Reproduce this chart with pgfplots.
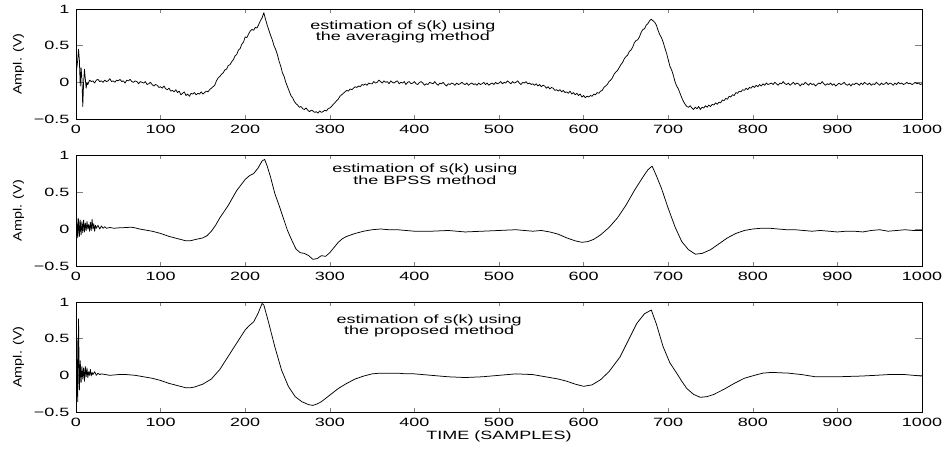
\documentclass[border=0pt]{standalone}
\usepackage{fontspec}
\setmainfont[FakeStretch=1.5]{Liberation Sans}
\newfontfamily\ylabfont[FakeStretch=1.2]{Liberation Sans}
\usepackage{pgfplots}
\pgfplotsset{compat=1.18}
\pgfplotsset{
  sigline/.style={black, mark=none, line width=0.75pt, line join=round},
  sig/.style={
    scale only axis, width=846pt, anchor=south west,
    xmin=0, xmax=1000, ymin=-0.5, ymax=1,
    xtick={0,100,...,1000},
    xticklabels={0,100,200,300,400,500,600,700,800,900,1000},
    ytick={-0.5,0,0.5,1},
    yticklabels={−0.5,0,0.5,1},
    tick align=inside,
    xtick style={/pgfplots/major tick length=4pt, line width=0.6pt},
    ytick style={/pgfplots/major tick length=7pt, line width=0.6pt},
    axis line style={line width=0.8pt},
    font=\fontsize{12pt}{12pt}\selectfont,
    xticklabel style={yshift=-2.5pt},
    yticklabel style={xshift=-3pt},
    ylabel={\ylabfont Ampl. (V)},
    every axis y label/.style={at={(axis description cs:-0.068,0.5)}, rotate=90, anchor=center, font=\fontsize{12pt}{12pt}\selectfont},
  }
}
\begin{document}
\begin{tikzpicture}
\path[use as bounding box] (0,0) rectangle (946pt,449pt);
% ---------- axis 1: averaging ----------
\begin{axis}[sig, at={(76pt,330pt)}, height=110pt]
\addplot[sigline] coordinates {
(0,0.12)(1,0.2)(2,0.3)(3,0.45)(4,0.3)(5,-0.05)(6,0.2)(7,0.05)(8,-0.33)(9,0.0)(10,0.18)(11,0.05)(12,-0.08)(13,0.0)(14,-0.03)
(16,0.03)(18,0.01)(20,0.02)(22,-0.01)(24,0.03)(26,0.04)(28,0.01)(30,0.02)(32,0.00)(34,0.03)(36,0.01)(38,0.02)(40,0.05)(42,0.01)(44,0.02)(46,0.00)(48,0.03)(50,0.02)(52,0.04)(54,0.01)(56,0.02)(58,-0.01)(60,0.03)(62,0.02)(64,0.04)(66,0.01)(68,0.00)(70,0.02)(72,0.01)(74,-0.02)(76,0.01)(78,0.00)(80,-0.01)(82,0.01)(84,-0.03)(86,-0.02)(88,0.0)(90,-0.03)(92,-0.05)(94,-0.03)(96,-0.04)(98,-0.07)
(100,-0.06)(102,-0.08)(104,-0.05)(106,-0.09)(108,-0.10)(110,-0.08)(112,-0.12)(114,-0.11)(116,-0.13)(118,-0.10)(120,-0.14)(122,-0.12)(124,-0.17)(126,-0.15)(128,-0.13)(130,-0.18)(132,-0.16)(134,-0.19)(136,-0.15)(138,-0.16)(140,-0.14)(142,-0.17)(144,-0.15)(146,-0.16)(148,-0.13)(150,-0.16)(152,-0.14)(154,-0.12)(156,-0.13)(158,-0.10)(160,-0.08)(162,-0.06)(164,-0.04)(166,0.02)(168,0.06)(170,0.08)(172,0.11)(174,0.13)(176,0.17)(178,0.18)(180,0.23)(182,0.24)(184,0.28)(186,0.31)(188,0.36)(190,0.38)(192,0.44)(194,0.46)(196,0.52)(198,0.55)
(200,0.62)(202,0.61)(204,0.66)(206,0.70)(208,0.72)(210,0.71)(212,0.75)(214,0.74)(216,0.79)(218,0.84)(220,0.88)(222,0.95)(224,0.86)(226,0.78)(228,0.71)(230,0.64)(232,0.58)(234,0.50)(236,0.45)(238,0.38)(240,0.29)(242,0.22)(244,0.13)(246,0.08)(248,0.0)(250,-0.06)(252,-0.12)(254,-0.18)
(256,-0.21)(258,-0.26)(260,-0.29)(262,-0.31)(264,-0.34)(266,-0.33)(268,-0.36)(270,-0.37)(272,-0.35)(274,-0.38)(276,-0.40)(278,-0.38)(280,-0.39)(282,-0.41)(284,-0.40)(286,-0.42)(288,-0.39)(290,-0.41)(292,-0.40)(294,-0.38)(296,-0.39)(298,-0.36)
(300,-0.35)(302,-0.33)(304,-0.30)(306,-0.28)(308,-0.25)(310,-0.23)(312,-0.19)(314,-0.17)(316,-0.15)(318,-0.13)(320,-0.11)(322,-0.12)(324,-0.09)(326,-0.10)(328,-0.08)(330,-0.06)(332,-0.07)(334,-0.05)(336,-0.06)(338,-0.03)(340,-0.04)(342,-0.02)(344,-0.04)(346,-0.01)(348,-0.02)
(350,-0.02)(352,0.01)(354,-0.01)(356,0.00)(358,0.03)(360,0.01)(362,-0.01)(364,0.02)(366,0.00)(368,0.01)(370,-0.02)(372,0.02)(374,0.00)(376,-0.01)(378,0.01)(380,0.02)(382,-0.02)(384,0.00)(386,-0.01)(388,0.01)(390,-0.03)(392,0.00)(394,0.01)(396,-0.02)(398,-0.01)
(400,0.01)(402,-0.02)(404,-0.03)(406,0.0)(408,0.01)(410,-0.01)(412,-0.04)(414,-0.02)(416,-0.03)(418,0.00)(420,-0.01)(422,-0.02)(424,0.01)(426,-0.02)(428,-0.04)(430,-0.01)(432,-0.02)(434,0.00)(436,-0.03)(438,-0.05)(440,-0.02)(442,-0.03)(444,-0.01)(446,-0.02)(448,-0.04)
(450,-0.01)(452,-0.03)(454,-0.02)(456,0.00)(458,-0.02)(460,-0.03)(462,-0.01)(464,-0.04)(466,-0.02)(468,-0.01)(470,-0.03)(472,-0.02)(474,-0.04)(476,-0.01)(478,-0.03)(480,-0.02)(482,0.00)(484,-0.03)(486,-0.01)(488,-0.04)(490,-0.02)(492,-0.01)(494,-0.03)(496,0.00)(498,-0.02)
(500,-0.01)(502,0.01)(504,-0.02)(506,0.00)(508,-0.01)(510,0.02)(512,0.00)(514,-0.02)(516,0.01)(518,-0.01)(520,0.00)(522,0.02)(524,-0.01)(526,-0.03)(528,0.00)(530,-0.01)(532,0.01)(534,-0.02)(536,-0.01)(538,-0.03)(540,-0.02)
(542,-0.04)(544,-0.02)(546,-0.05)(548,-0.03)(550,-0.06)(552,-0.04)(554,-0.05)(556,-0.08)(558,-0.06)(560,-0.09)(562,-0.07)(564,-0.08)(566,-0.11)(568,-0.10)(570,-0.12)(572,-0.10)(574,-0.13)(576,-0.11)(578,-0.14)(580,-0.13)(582,-0.15)(584,-0.12)(586,-0.16)(588,-0.14)(590,-0.17)(592,-0.15)(594,-0.18)(596,-0.16)(598,-0.20)
(600,-0.18)(602,-0.21)(604,-0.19)(606,-0.20)(608,-0.18)(610,-0.19)(612,-0.16)(614,-0.17)(616,-0.14)(618,-0.15)(620,-0.12)(622,-0.11)(624,-0.07)(626,-0.05)(628,-0.03)(630,0.01)(632,0.03)(634,0.06)(636,0.11)(638,0.14)(640,0.16)(642,0.20)(644,0.24)(646,0.27)(648,0.32)(650,0.35)(652,0.37)(654,0.42)(656,0.44)(658,0.48)(660,0.54)(662,0.57)(664,0.58)(666,0.62)(668,0.68)(670,0.72)(672,0.73)(674,0.78)(676,0.80)(678,0.84)(680,0.86)(682,0.84)(684,0.82)(686,0.78)(688,0.71)(690,0.65)(692,0.61)(694,0.55)(696,0.47)(698,0.40)
(700,0.31)(702,0.22)(704,0.17)(706,0.10)(708,0.01)(710,-0.05)(712,-0.09)(714,-0.15)(716,-0.21)(718,-0.26)(720,-0.30)(722,-0.33)
(724,-0.34)(726,-0.32)(728,-0.35)(730,-0.37)(732,-0.34)(734,-0.36)(736,-0.33)(738,-0.37)(740,-0.34)(742,-0.35)(744,-0.32)(746,-0.34)(748,-0.31)(750,-0.33)(752,-0.30)(754,-0.31)(756,-0.28)(758,-0.30)(760,-0.27)(762,-0.28)(764,-0.24)(766,-0.25)(768,-0.22)(770,-0.23)(772,-0.19)(774,-0.20)(776,-0.17)(778,-0.18)(780,-0.14)(782,-0.15)(784,-0.12)(786,-0.13)(788,-0.10)(790,-0.11)(792,-0.08)(794,-0.10)(796,-0.07)(798,-0.08)
(800,-0.05)(802,-0.07)(804,-0.04)(806,-0.06)(808,-0.03)(810,-0.05)(812,-0.02)(814,-0.04)(816,-0.01)(818,-0.03)(820,-0.02)(822,-0.01)(824,-0.03)(826,0.00)(828,-0.02)(830,-0.04)(832,-0.01)(834,-0.02)(836,0.01)(838,-0.02)(840,-0.03)(842,-0.01)(844,-0.04)(846,-0.02)(848,0.00)
(850,-0.03)(852,-0.01)(854,-0.02)(856,-0.05)(858,-0.02)(860,-0.03)(862,0.00)(864,-0.02)(866,-0.04)(868,-0.01)(870,-0.03)(872,-0.02)(874,-0.05)(876,-0.03)(878,-0.01)(880,-0.02)(882,0.01)(884,-0.02)(886,-0.04)(888,-0.02)(890,-0.03)(892,-0.01)(894,-0.04)(896,-0.02)(898,-0.05)
(900,-0.03)(902,-0.01)(904,-0.03)(906,-0.02)(908,0.00)(910,-0.03)(912,-0.04)(914,-0.02)(916,-0.05)(918,-0.02)(920,-0.03)(922,-0.01)(924,-0.02)(926,-0.04)(928,-0.01)(930,-0.03)(932,0.00)(934,-0.02)(936,-0.03)(938,-0.01)(940,-0.04)(942,-0.02)(944,-0.03)(946,0.00)(948,-0.02)
(950,-0.04)(952,-0.01)(954,-0.03)(956,-0.02)(958,0.00)(960,-0.03)(962,-0.01)(964,-0.02)(966,-0.04)(968,-0.01)(970,-0.03)(972,0.00)(974,-0.02)(976,-0.01)(978,-0.03)(980,-0.02)(982,0.00)(984,-0.02)(986,-0.01)(988,-0.03)(990,-0.02)(992,0.00)(994,-0.02)(996,-0.01)(998,-0.03)(1000,-0.02)
};
\node[anchor=base] at (axis cs:386.5,0.727) {estimation of s(k) using};
\node[anchor=base] at (axis cs:386.5,0.570) {the averaging method};
\end{axis}
% ---------- axis 2: BPSS ----------
\begin{axis}[sig, at={(76pt,183pt)}, height=111pt]
\addplot[sigline] coordinates {
(0,0.0)(1,0.15)(2,-0.12)(3,0.14)(4,-0.1)(5,0.12)(6,-0.08)(7,0.1)(8,-0.05)(9,0.12)(10,-0.04)(11,0.08)(12,-0.02)(13,0.1)(14,0.0)(15,0.06)(16,-0.03)(17,0.09)(18,-0.02)(19,0.13)(20,0.0)(21,0.07)(22,-0.03)(23,0.05)(24,0.01)(26,0.05)(28,0.0)(30,0.04)(32,0.01)(34,0.03)(36,0.01)(40,0.02)(45,0.01)(50,0.015)(60,0.02)(65,0.025)(70,0.015)(75,0.0)(80,-0.01)(90,-0.03)
(100,-0.06)(110,-0.1)(120,-0.13)(130,-0.16)(135,-0.16)(140,-0.145)(150,-0.12)(155,-0.09)(160,-0.03)(165,0.05)(170,0.15)(180,0.32)(190,0.52)(200,0.67)(205,0.72)(210,0.75)(215,0.82)(220,0.92)(223,0.94)(226,0.85)(230,0.70)(235,0.48)(240,0.32)(245,0.15)(250,-0.02)(255,-0.15)(260,-0.27)(265,-0.32)(270,-0.33)(275,-0.36)(280,-0.41)(285,-0.40)(290,-0.36)(295,-0.37)
(300,-0.32)(305,-0.25)(310,-0.18)(315,-0.13)(320,-0.10)(330,-0.06)(340,-0.03)(350,-0.01)(360,0.0)(370,-0.01)(380,-0.01)(390,-0.02)(400,-0.03)(420,-0.03)(440,-0.02)(460,-0.04)(480,-0.03)(500,-0.02)(520,-0.01)(530,-0.02)(540,-0.03)(550,-0.02)(560,-0.04)(570,-0.07)(580,-0.12)(590,-0.16)(598,-0.18)
(605,-0.17)(612,-0.14)(620,-0.08)(630,0.02)(640,0.15)(650,0.32)(660,0.52)(670,0.70)(676,0.80)(681,0.85)(686,0.72)(692,0.55)(700,0.28)(708,0.03)(716,-0.17)(724,-0.28)(732,-0.34)(740,-0.33)(750,-0.28)(760,-0.20)(770,-0.12)(780,-0.06)(790,-0.02)
(800,0.0)(810,0.01)(820,0.01)(830,0.0)(840,-0.01)(850,-0.01)(860,-0.02)(870,-0.03)(880,-0.02)(890,-0.03)(900,-0.04)(910,-0.03)(920,-0.03)(930,-0.04)(940,-0.02)(950,-0.01)(960,-0.03)(970,-0.02)(980,-0.01)(990,-0.02)(1000,-0.02)
};
\node[anchor=base] at (axis cs:412.5,0.757) {estimation of s(k) using};
\node[anchor=base] at (axis cs:412.5,0.602) {the BPSS method};
\end{axis}
% ---------- axis 3: proposed ----------
\begin{axis}[sig, at={(76pt,37pt)}, height=110pt,
  xlabel={TIME (SAMPLES)},
  every axis x label/.style={at={(axis description cs:0.5,-0.2545)}, anchor=base}]
\addplot[sigline] coordinates {
(0,0.3)(1,0.5)(2,-0.36)(3,0.77)(4,-0.2)(5,0.2)(6,-0.1)(7,0.12)(8,-0.05)(9,0.1)(10,-0.08)(11,0.12)(12,-0.02)(13,0.1)(14,-0.03)(15,0.05)(16,0.0)(17,0.08)(18,-0.01)(19,0.04)(20,0.01)(22,0.05)(24,0.0)(26,0.03)(28,0.01)(30,0.02)(35,0.01)(40,0.0)(50,0.01)(60,0.01)(70,0.0)(80,-0.02)(90,-0.04)
(100,-0.07)(110,-0.11)(120,-0.14)(130,-0.17)(135,-0.17)(140,-0.16)(150,-0.12)(160,-0.05)(170,0.08)(180,0.26)(190,0.44)(200,0.62)(205,0.68)(210,0.73)(215,0.84)(220,0.98)(222,0.96)(227,0.75)(235,0.39)(243,0.07)(251,-0.15)(259,-0.29)(267,-0.36)(275,-0.40)(280,-0.41)(285,-0.39)(290,-0.36)
(300,-0.27)(310,-0.18)(320,-0.11)(330,-0.05)(340,-0.01)(350,0.02)(360,0.03)(370,0.03)(380,0.03)(390,0.02)(400,0.02)(420,0.0)(440,-0.02)(460,-0.03)(480,-0.02)(500,0.0)(520,0.02)(540,0.01)(560,-0.03)(570,-0.05)(580,-0.08)(590,-0.12)
(600,-0.15)(610,-0.13)(620,-0.06)(630,0.05)(643,0.25)(653,0.48)(663,0.71)(672,0.84)(680,0.89)(686,0.70)(694,0.39)(702,0.17)(710,0.03)(716,-0.08)(722,-0.18)(730,-0.26)(738,-0.30)(746,-0.29)(754,-0.26)(766,-0.19)(778,-0.11)(790,-0.04)
(802,0.0)(812,0.03)(822,0.04)(842,0.03)(858,0.01)(874,-0.02)(900,-0.02)(928,-0.01)(945,0.0)(960,0.01)(980,0.01)(1000,-0.01)
};
\node[anchor=base] at (axis cs:417.4,0.707) {estimation of s(k) using};
\node[anchor=base] at (axis cs:417.4,0.550) {the proposed method};
\end{axis}
\end{tikzpicture}
\end{document}
